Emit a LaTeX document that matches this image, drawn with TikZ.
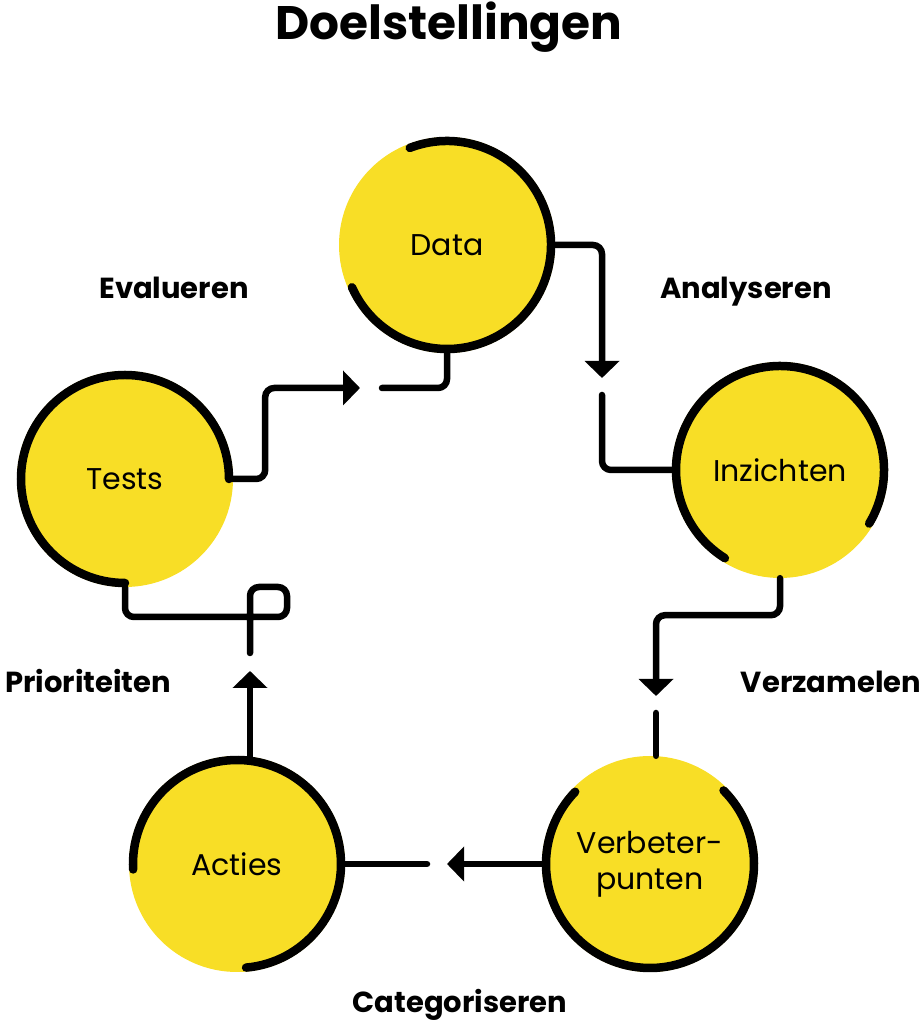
\documentclass[tikz,border=0pt]{standalone}
\usepackage{fontspec}
\setmainfont{Poppins}
\usepackage{tikz}
\usetikzlibrary{arrows.meta}
\definecolor{goalyellow}{HTML}{F8DE26}

\begin{document}
\begin{tikzpicture}[x=1pt,y=1pt,
        goal/.style={circle,fill=goalyellow,minimum size=216pt,inner sep=0pt,align=center,font=\fontsize{30}{36}\selectfont},
        ring/.style={line width=8.5pt,line cap=round},
        link/.style={line width=6.5pt,line cap=round,rounded corners=9pt},
        tip/.style={-{Triangle[length=17pt,width=34pt]}},
        phase/.style={anchor=base,font=\bfseries\fontsize{29}{31}\selectfont}]
        \useasboundingbox (0,0) rectangle (923,1024);
        \node[anchor=base,font=\bfseries\fontsize{47}{52}\selectfont] (title) at (449,984) {Doelstellingen};
        \node[goal] (data) at (447,779) {Data};
        \node[goal] (tests) at (125,545) {Tests};
        \node[goal] (inzichten) at (780,554) {Inzichten};
        \node[goal] (verbeter) at (650,160) {Verbeter-\\punten};
        \node[goal] (acties) at (237,160) {Acties};
        \draw[ring] ([shift={(-156:104)}]data.center) arc[start angle=-156,end angle=111,radius=104];
        \draw[ring] ([shift={(0:104)}]tests.center) arc[start angle=0,end angle=270,radius=104];
        \draw[ring] ([shift={(-31:104)}]inzichten.center) arc[start angle=-31,end angle=238,radius=104];
        \draw[ring] ([shift={(136:104)}]verbeter.center) arc[start angle=136,end angle=405,radius=104];
        \draw[ring] ([shift={(-85:104)}]acties.center) arc[start angle=-85,end angle=183,radius=104];
        \node[phase] (evalueren) at (174,725) {Evalueren};
        \node[phase] (analyseren) at (746,725) {Analyseren};
        \node[phase] (prioriteiten) at (88,331) {Prioriteiten};
        \node[phase] (verzamelen) at (831,331) {Verzamelen};
        \node[phase] (categoriseren) at (460,12) {Categoriseren};
        \coordinate (evTip) at (360,636);
        \coordinate (evEnd) at (382,636);
        \coordinate (anTip) at (602,646);
        \coordinate (anEnd) at (602,629);
        \coordinate (vzTip) at (656,328);
        \coordinate (vzEnd) at (656,311);
        \coordinate (catTip) at (447,160);
        \coordinate (catEnd) at (427,160);
        \coordinate (prTip) at (250,353);
        \coordinate (prEnd) at (250,371);
        \draw[link,tip] (tests.east) -- ++(32,0) |- (evTip);
        \draw[link] (evEnd) -| (data.south);
        \draw[link,tip] (data.east) -| (anTip);
        \draw[link] (anEnd) |- (inzichten.west);
        \draw[link,tip] (inzichten.south) -- ++(0,-37) -| (vzTip);
        \draw[link] (vzEnd) -- (vzEnd |- verbeter.north);
        \draw[link,tip] (verbeter.west) -- (catTip);
        \draw[link] (catEnd) -- (acties.east);
        \draw[link,tip] (prTip |- acties.83) -- (prTip);
        \draw[link] (prEnd) -- ++(0,66) -- ++(37,0) -- ++(0,-30) -| (tests.south);
\end{tikzpicture}
\end{document}
